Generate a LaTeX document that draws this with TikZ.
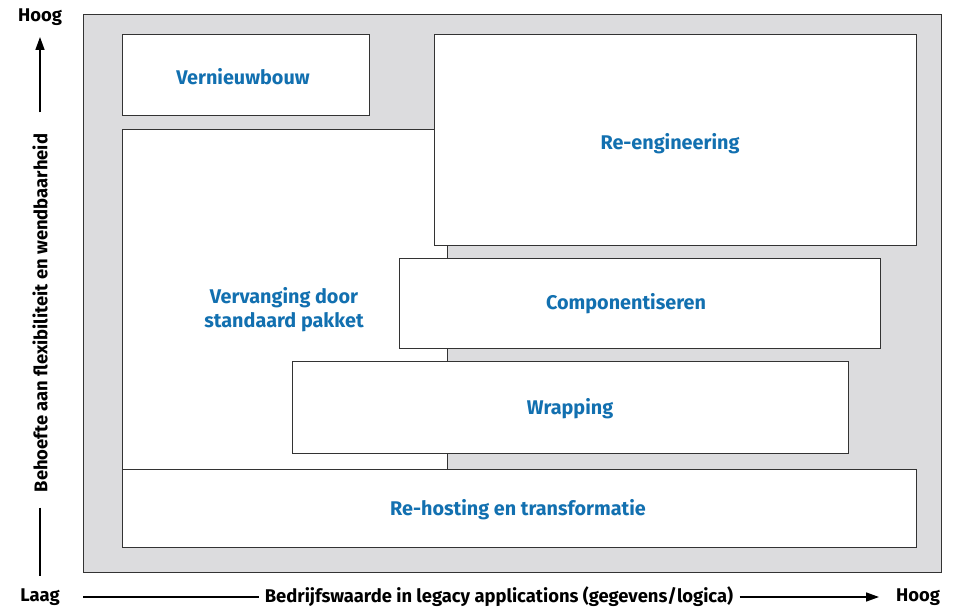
\documentclass[tikz,border=0pt]{standalone}
\usepackage{fontspec}
\setmainfont{Fira Sans}
\usetikzlibrary{arrows.meta}
\definecolor{panel}{HTML}{DCDCDE}
\definecolor{labelblue}{HTML}{1270B0}
\definecolor{edge}{HTML}{333333}
\begin{document}
\begin{tikzpicture}[x=1pt,y=-1pt,
  optionbox/.style={draw=edge, line width=0.9pt, fill=white},
  optionlabel/.style={font=\bfseries\fontsize{19.8}{24}\selectfont, text=labelblue, align=center},
  axislabel/.style={font=\bfseries\fontsize{18.4}{22}\selectfont, text=black},
  axisline/.style={line width=1.6pt, black},
  axistip/.style={-{Triangle[length=13pt,width=9pt]}}]
\useasboundingbox (0,0) rectangle (955,610);
% grey panel
\draw[draw=edge, line width=0.9pt, fill=panel] (83,14) rectangle (941,572);
% boxes, back to front
\draw[optionbox] (122,129) rectangle (447,469);
\draw[optionbox] (122,34) rectangle (369,115);
\draw[optionbox] (434,34) rectangle (916,245);
\draw[optionbox] (399,258) rectangle (880,348);
\draw[optionbox] (292,361) rectangle (848,453);
\draw[optionbox] (122,469) rectangle (916,547);
% box labels
\node[optionlabel] (vern) at (243,77) {Vernieuwbouw};
\node[optionlabel] (reeng) at (670,144) {Re-engineering};
\node[optionlabel] (verv) at (284,310) {Vervanging door\\standaard pakket};
\node[optionlabel] (comp) at (626,304) {Componentiseren};
\node[optionlabel] (wrap) at (570,409) {Wrapping};
\node[optionlabel] (rehost) at (518,510) {Re-hosting en transformatie};
% vertical axis
\node[axislabel] (yhigh) at (40,17) {Hoog};
\node[axislabel] (ylow) at (40,597) {Laag};
\node[axislabel, rotate=90] (ytitle) at (40,313) {Behoefte aan flexibiliteit en wendbaarheid};
\coordinate (ytop) at (40,37);
\coordinate (ybot) at (40,576);
\draw[axisline, axistip] (ytitle.east) ++(0,-18) -- (ytop);
\draw[axisline] (ytitle.west) ++(0,12) -- (ybot);
% horizontal axis
\node[axislabel] (xhigh) at (918,597) {Hoog};
\node[axislabel] (xtitle) at (499,597) {Bedrijfswaarde in legacy applications (gegevens/logica)};
\coordinate (xleft) at (83,597);
\coordinate (xright) at (879,597);
\draw[axisline] (xleft) -- ([xshift=-2pt]xtitle.west);
\draw[axisline, axistip] ([xshift=3pt]xtitle.east) -- (xright);
\end{tikzpicture}
\end{document}
